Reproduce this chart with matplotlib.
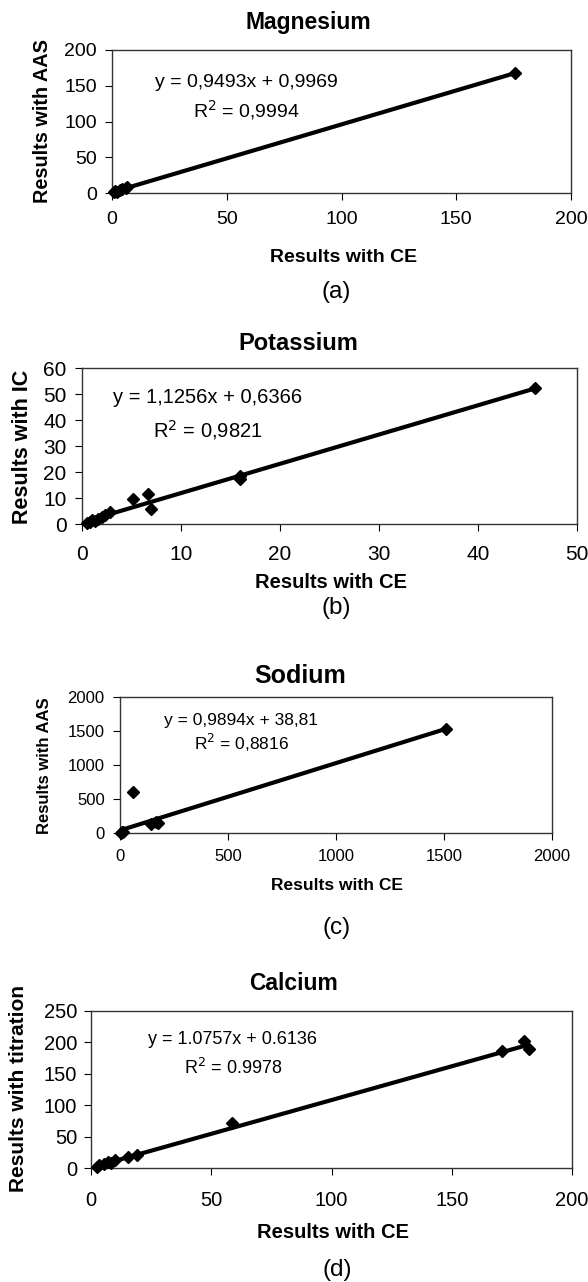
import matplotlib
matplotlib.use("Agg")
import matplotlib.pyplot as plt
import numpy as np

plt.rcParams["font.family"] = ["Liberation Sans", "DejaVu Sans"]

W, H = 588, 1282

# Magnesium: CE vs AAS
mg_ce = [0.8, 1.5, 2.2, 3.5, 4.2, 6.0, 6.6, 175.5]
mg_aas = [1.0, 2.2, 1.5, 4.5, 5.5, 7.0, 8.5, 168.0]

# Potassium: CE vs IC
k_ce = [0.5, 0.8, 1.0, 1.3, 1.6, 2.0, 2.3, 2.8, 5.2, 6.7, 7.0, 16.0, 16.0, 45.8]
k_ic = [0.2, 0.9, 1.5, 1.2, 2.0, 2.8, 3.6, 4.8, 9.7, 11.6, 5.6, 17.3, 18.6, 52.3]

# Sodium: CE vs AAS
na_ce = [3, 8, 12, 61, 145, 165, 175, 1510]
na_aas = [5, 12, 8, 603, 130, 165, 150, 1530]

# Calcium: CE vs titration
ca_ce = [2.5, 3.5, 5.5, 7.0, 8.5, 10.0, 15.5, 19.0, 58.5, 171.0, 180.0, 182.0]
ca_tit = [2.0, 5.0, 6.0, 9.0, 8.0, 12.0, 18.0, 20.0, 72.0, 186.0, 202.0, 190.0]

panels = [
    dict(x=mg_ce, y=mg_aas, slope=0.9493, icpt=0.9969, box=(112, 50, 571, 193),
         xlim=200, xstep=50, ylim=200, ystep=50,
         eq="y = 0,9493x + 0,9969", r2="R$^2$ = 0,9994", eqpos=(0.293, 0.776, 0.58), eqfs=14,
         title="Magnesium", tpos=(308, 23), tfs=16.5,
         ylabel="Results with AAS", ylpos=(43, 121), ylfs=14.3,
         xlpos=(344, 258), xlfs=14, letter="(a)", lpos=(336, 292),
         tickfs=14, xpad=8, ypad=6),
    dict(x=k_ce, y=k_ic, slope=1.1256, icpt=0.6366, box=(82, 368, 577, 524),
         xlim=50, xstep=10, ylim=60, ystep=10,
         eq="y = 1,1256x + 0,6366", r2="R$^2$ = 0,9821", eqpos=(0.254, 0.808, 0.603), eqfs=14.5,
         title="Potassium", tpos=(298, 343), tfs=17,
         ylabel="Results with IC", ylpos=(23, 447), ylfs=15.5,
         xlpos=(331, 582), xlfs=14.5, letter="(b)", lpos=(336, 608),
         tickfs=15, xpad=10, ypad=6),
    dict(x=na_ce, y=na_aas, slope=0.9894, icpt=38.81, box=(120, 697, 552, 833),
         xlim=2000, xstep=500, ylim=2000, ystep=500,
         eq="y = 0,9894x + 38,81", r2="R$^2$ = 0,8816", eqpos=(0.281, 0.83, 0.66), eqfs=12.5,
         title="Sodium", tpos=(300, 676), tfs=18,
         ylabel="Results with AAS", ylpos=(45, 766), ylfs=12,
         xlpos=(337, 886), xlfs=12.5, letter="(c)", lpos=(337, 928),
         tickfs=12, xpad=6.5, ypad=6),
    dict(x=ca_ce, y=ca_tit, slope=1.0757, icpt=0.6136, box=(91, 1011, 572, 1168),
         xlim=200, xstep=50, ylim=250, ystep=50,
         eq="y = 1.0757x + 0.6136", r2="R$^2$ = 0.9978", eqpos=(0.295, 0.82, 0.637), eqfs=13,
         title="Calcium", tpos=(294, 983), tfs=16.5,
         ylabel="Results with titration", ylpos=(19, 1089), ylfs=15,
         xlpos=(333, 1233), xlfs=14.5, letter="(d)", lpos=(337, 1270),
         tickfs=14.5, xpad=11.5, ypad=5),
]


def fx(px):
    return px / W


def fy(py):
    return 1 - py / H


fig = plt.figure(figsize=(W / 100, H / 100), dpi=100)

for p in panels:
    x0, y0, x1, y1 = p["box"]
    ax = fig.add_axes([fx(x0), fy(y1), (x1 - x0) / W, (y1 - y0) / H])
    xs = np.array(p["x"])
    ys = np.array(p["y"])
    xfit = np.array([xs.min(), xs.max()])
    ax.plot(xfit, p["slope"] * xfit + p["icpt"], color="black", lw=3.0, solid_capstyle="butt", zorder=2)
    ax.plot(xs, ys, "D", color="black", ms=6.4, zorder=3, clip_on=False)

    ax.set_xlim(0, p["xlim"])
    ax.set_ylim(0, p["ylim"])
    ax.set_xticks(np.arange(0, p["xlim"] + 1, p["xstep"]))
    ax.set_yticks(np.arange(0, p["ylim"] + 1, p["ystep"]))
    ax.tick_params(axis="x", direction="out", length=5, width=0.8, pad=p["xpad"], labelsize=p["tickfs"])
    ax.tick_params(axis="y", direction="out", length=5, width=0.8, pad=p["ypad"], labelsize=p["tickfs"])
    for s in ax.spines.values():
        s.set_color("#333333")
        s.set_linewidth(1.0)

    ex, ey1, ey2 = p["eqpos"]
    ax.text(ex, ey1, p["eq"], transform=ax.transAxes, ha="center", va="center", fontsize=p["eqfs"])
    ax.text(ex, ey2, p["r2"], transform=ax.transAxes, ha="center", va="center", fontsize=p["eqfs"])

    fig.text(fx(p["tpos"][0]), fy(p["tpos"][1]), p["title"], ha="center", va="center",
             fontsize=p["tfs"], fontweight="bold")
    fig.text(fx(p["ylpos"][0]), fy(p["ylpos"][1]), p["ylabel"], ha="center", va="center",
             rotation=90, fontsize=p["ylfs"], fontweight="bold")
    fig.text(fx(p["xlpos"][0]), fy(p["xlpos"][1]), "Results with CE", ha="center", va="center",
             fontsize=p["xlfs"], fontweight="bold")
    fig.text(fx(p["lpos"][0]), fy(p["lpos"][1]), p["letter"], ha="center", va="center", fontsize=17.5)

fig.savefig("out.png", dpi=100)
